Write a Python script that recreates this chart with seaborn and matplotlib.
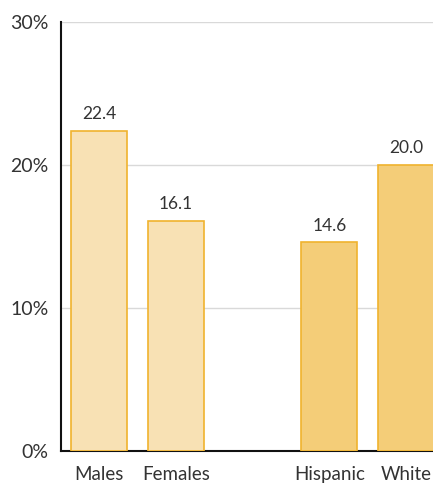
import matplotlib
matplotlib.use("Agg")
import matplotlib.pyplot as plt
import seaborn as sns
import pandas as pd

categories = ["Males", "Females", "Hispanic", "White"]
values = [22.4, 16.1, 14.6, 20.0]
groups = ["sex", "sex", "race", "race"]
slot_order = ["Males", "Females", " ", "Hispanic", "White"]
y_ticks = [0, 10, 20, 30]
y_tick_labels = ["0%", "10%", "20%", "30%"]

fill_colors = {"sex": "#F8E1B4", "race": "#F4CD78"}
edge_color = "#F0B32E"

sns.set_theme(style="white")
plt.rcParams["font.family"] = ["Lato", "DejaVu Sans"]

df = pd.DataFrame({"category": categories, "value": values, "group": groups})

fig = plt.figure(figsize=(4.33, 4.83), dpi=100)
ax = fig.add_axes([61 / 433, 32 / 483, 1 - 61 / 433, 429 / 483])

sns.barplot(
    data=df, x="category", y="value", hue="group", order=slot_order,
    palette=fill_colors, saturation=1, dodge=False, width=0.73, legend=False,
    edgecolor=edge_color, linewidth=1.2, ax=ax, zorder=3,
)

for cat, val in zip(categories, values):
    xi = slot_order.index(cat)
    ax.text(xi, val + 0.6, f"{val:.1f}", ha="center", va="bottom",
            fontsize=12.5, color="#333333", zorder=4)

ax.set_ylim(0, 30)
ax.set_xlim(-0.5, 4.35)
ax.set_yticks(y_ticks)
ax.set_yticklabels(y_tick_labels)
ax.yaxis.grid(True, color="#D9D9D9", linewidth=1, zorder=0)
ax.set_axisbelow(True)
ax.set_xlabel("")
ax.set_ylabel("")
ax.tick_params(axis="both", length=0, labelsize=14, colors="#333333")
ax.tick_params(axis="x", pad=11, labelsize=13.5)
ax.tick_params(axis="y", pad=9)
for s in ["top", "right"]:
    ax.spines[s].set_visible(False)
for s in ["left", "bottom"]:
    ax.spines[s].set_color("#111111")
    ax.spines[s].set_linewidth(1.5)

fig.savefig("out.png", dpi=100)
